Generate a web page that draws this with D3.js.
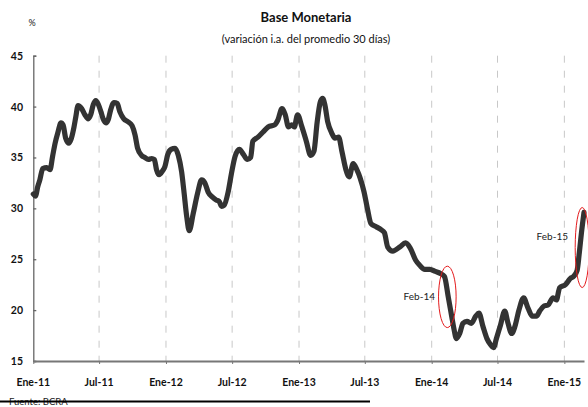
<!DOCTYPE html>
<html><head><meta charset="utf-8">
<script src="https://cdn.jsdelivr.net/npm/d3@7"></script>
<style>body{margin:0;background:#fff}svg{display:block}text{font-family:Lato,"Open Sans",sans-serif}</style>
</head><body><svg id="c" width="588" height="407"></svg>
<script>
const dates = ["2011-01-01","2011-01-07","2011-01-13","2011-01-19","2011-01-27","2011-02-07","2011-02-16","2011-02-23","2011-03-02","2011-03-10","2011-03-18","2011-03-24","2011-03-31","2011-04-09","2011-04-14","2011-04-23","2011-04-28","2011-05-04","2011-05-14","2011-05-23","2011-06-01","2011-06-08","2011-06-15","2011-06-22","2011-06-29","2011-07-06","2011-07-12","2011-07-20","2011-07-26","2011-08-02","2011-08-11","2011-08-20","2011-08-27","2011-09-07","2011-09-19","2011-09-30","2011-10-08","2011-10-15","2011-10-26","2011-11-04","2011-11-13","2011-11-23","2011-11-30","2011-12-06","2011-12-13","2011-12-23","2011-12-29","2012-01-06","2012-01-15","2012-01-26","2012-02-04","2012-02-13","2012-02-19","2012-02-27","2012-03-05","2012-03-16","2012-03-28","2012-04-08","2012-04-17","2012-04-26","2012-05-08","2012-05-19","2012-05-26","2012-06-02","2012-06-09","2012-06-20","2012-06-29","2012-07-09","2012-07-21","2012-08-01","2012-08-12","2012-08-21","2012-08-27","2012-09-10","2012-09-24","2012-10-08","2012-10-26","2012-11-04","2012-11-15","2012-11-24","2012-12-03","2012-12-12","2012-12-19","2012-12-28","2013-01-09","2013-01-21","2013-02-02","2013-02-11","2013-02-20","2013-03-01","2013-03-07","2013-03-13","2013-03-21","2013-04-01","2013-04-10","2013-04-20","2013-04-29","2013-05-10","2013-05-19","2013-05-30","2013-06-09","2013-06-18","2013-06-29","2013-07-08","2013-07-18","2013-08-01","2013-08-15","2013-08-24","2013-09-02","2013-09-16","2013-10-05","2013-10-21","2013-11-03","2013-11-18","2013-11-29","2013-12-13","2013-12-27","2014-01-11","2014-01-25","2014-02-05","2014-02-16","2014-02-25","2014-03-03","2014-03-10","2014-03-19","2014-03-28","2014-04-08","2014-04-20","2014-05-02","2014-05-11","2014-05-22","2014-06-02","2014-06-12","2014-06-20","2014-06-28","2014-07-09","2014-07-21","2014-07-30","2014-08-09","2014-08-18","2014-08-29","2014-09-11","2014-09-23","2014-10-05","2014-10-16","2014-10-25","2014-11-06","2014-11-17","2014-12-01","2014-12-10","2014-12-19","2015-01-04","2015-01-17","2015-01-26","2015-02-05","2015-02-11","2015-02-17","2015-02-24"];
const values = [31.4,31.2,32.1,32.8,33.9,34.0,33.8,35.1,36.4,37.5,38.4,38.2,36.9,36.4,36.7,38.0,39.0,40.1,39.8,39.2,38.8,39.2,40.2,40.6,40.2,39.5,38.8,38.4,38.7,39.7,40.4,40.3,39.5,38.8,38.5,38.1,37.2,35.9,35.2,35.0,34.8,34.9,34.8,33.8,33.3,33.7,34.1,35.3,35.8,35.9,35.2,33.6,31.8,29.2,27.8,29.5,31.5,32.8,32.5,31.6,31.1,30.8,30.7,30.2,30.3,31.6,33.4,35.1,35.8,35.3,34.8,35.0,36.6,37.0,37.5,38.0,38.2,38.7,39.8,39.2,38.0,38.2,38.0,39.2,38.0,36.6,35.2,35.6,38.5,40.5,40.8,40.2,38.5,37.4,36.9,37.0,35.6,33.8,33.1,34.4,33.8,33.0,31.6,30.0,28.5,28.2,27.9,27.6,26.2,25.8,26.2,26.6,26.1,24.9,24.4,24.0,24.0,23.8,23.6,23.3,21.2,19.4,18.2,17.2,17.7,18.7,18.9,18.7,19.4,19.7,18.4,17.2,16.6,16.3,17.2,18.5,19.9,18.7,17.7,18.4,20.0,21.2,20.2,19.4,19.4,19.9,20.4,20.5,21.2,21.0,22.2,22.5,23.1,23.3,23.9,25.6,27.6,29.6];
const xTickDates = ["2011-01-01","2011-07-01","2012-01-01","2012-07-01","2013-01-01","2013-07-01","2014-01-01","2014-07-01","2015-01-01"];
const xTickLabels = ["Ene-11","Jul-11","Ene-12","Jul-12","Ene-13","Jul-13","Ene-14","Jul-14","Ene-15"];
const yTicks = [15,20,25,30,35,40,45];
const annotLabels = ["Feb-14","Feb-15"];
const annotDates = ["2014-02-13","2015-02-19"];
const annotValues = [21.3,26.15];

const parse = d3.utcParse("%Y-%m-%d");
const svg = d3.select("#c");
const x = d3.scaleUtc().domain([parse("2011-01-01"), parse("2015-02-24")]).range([33.3, 584]);
const y = d3.scaleLinear().domain([15,45]).range([361, 55.7]);

// gridlines
svg.append("g").selectAll("line").data(xTickDates.slice(1)).join("line")
  .attr("x1", d=>x(parse(d))).attr("x2", d=>x(parse(d)))
  .attr("y1", y(45)).attr("y2", y(15))
  .attr("stroke", "#c8c8c8").attr("stroke-width", 1).attr("stroke-dasharray", "7,8");

// y axis
const ya = svg.append("g").attr("transform", `translate(${x.range()[0]},0)`)
  .call(d3.axisRight(y).tickValues(yTicks).tickSize(3).tickFormat(""));
ya.select(".domain").attr("stroke", "#666").attr("stroke-width", 1.3);
ya.selectAll(".tick line").attr("stroke", "#666").attr("stroke-width", 1.3);
svg.append("g").selectAll("text").data(yTicks).join("text")
  .attr("x", 23).attr("y", d=>y(d)+4).attr("text-anchor","end")
  .attr("font-size", 10.5).attr("font-weight", "bold").attr("fill", "#111").text(d=>d);

// x axis
const xa = svg.append("g").attr("transform", `translate(0,${y(15)})`)
  .call(d3.axisBottom(x).tickValues(xTickDates.map(parse)).tickSize(3).tickSizeOuter(0).tickFormat(""));
xa.select(".domain").attr("stroke", "#777").attr("stroke-width", 2.2);
xa.selectAll(".tick line").attr("stroke", "#777").attr("stroke-width", 1);
svg.append("g").selectAll("text").data(xTickDates).join("text")
  .attr("x", d=>x(parse(d))).attr("y", 386).attr("text-anchor","middle")
  .attr("font-size", 10.5).attr("font-weight", "bold").attr("fill", "#111")
  .text((d,i)=>xTickLabels[i]);

// line
const data = dates.map((d,i)=>({d:parse(d), v:values[i]}));
svg.append("path").datum(data)
  .attr("d", d3.line().x(p=>x(p.d)).y(p=>y(p.v)).curve(d3.curveMonotoneX))
  .attr("fill","none").attr("stroke","#333").attr("stroke-width",5.2)
  .attr("stroke-linejoin","round").attr("stroke-linecap","round");

// annotations
const rx = [8.8, 7], ry = [30.7, 40];
svg.append("g").selectAll("ellipse").data(annotDates).join("ellipse")
  .attr("cx", d=>x(parse(d))).attr("cy", (d,i)=>y(annotValues[i]))
  .attr("rx", (d,i)=>rx[i]).attr("ry", (d,i)=>ry[i])
  .attr("fill","none").attr("stroke","#e41a1c").attr("stroke-width",1);
const lx = [435, 568], ly = [300, 240];
svg.append("g").selectAll("text").data(annotLabels).join("text")
  .attr("x",(d,i)=>lx[i]).attr("y",(d,i)=>ly[i]).attr("text-anchor","end")
  .attr("font-size",10).attr("fill","#222").text(d=>d);

// titles
svg.append("text").attr("x",306).attr("y",22).attr("text-anchor","middle")
  .attr("font-size",13).attr("font-weight","bold").attr("fill","#111").text("Base Monetaria");
svg.append("text").attr("x",306).attr("y",43).attr("text-anchor","middle")
  .attr("font-size",11).attr("fill","#111").text("(variación i.a. del promedio 30 días)");
svg.append("text").attr("x",32).attr("y",26).attr("text-anchor","middle")
  .attr("font-size",9).attr("fill","#222").text("%");

// source
svg.append("text").attr("x",9).attr("y",405).attr("font-size",9.5).attr("fill","#222").text("Fuente: BCRA");
svg.append("line").attr("x1",0).attr("x2",370).attr("y1",401.5).attr("y2",401.5)
  .attr("stroke","#000").attr("stroke-width",2);
</script></body></html>
